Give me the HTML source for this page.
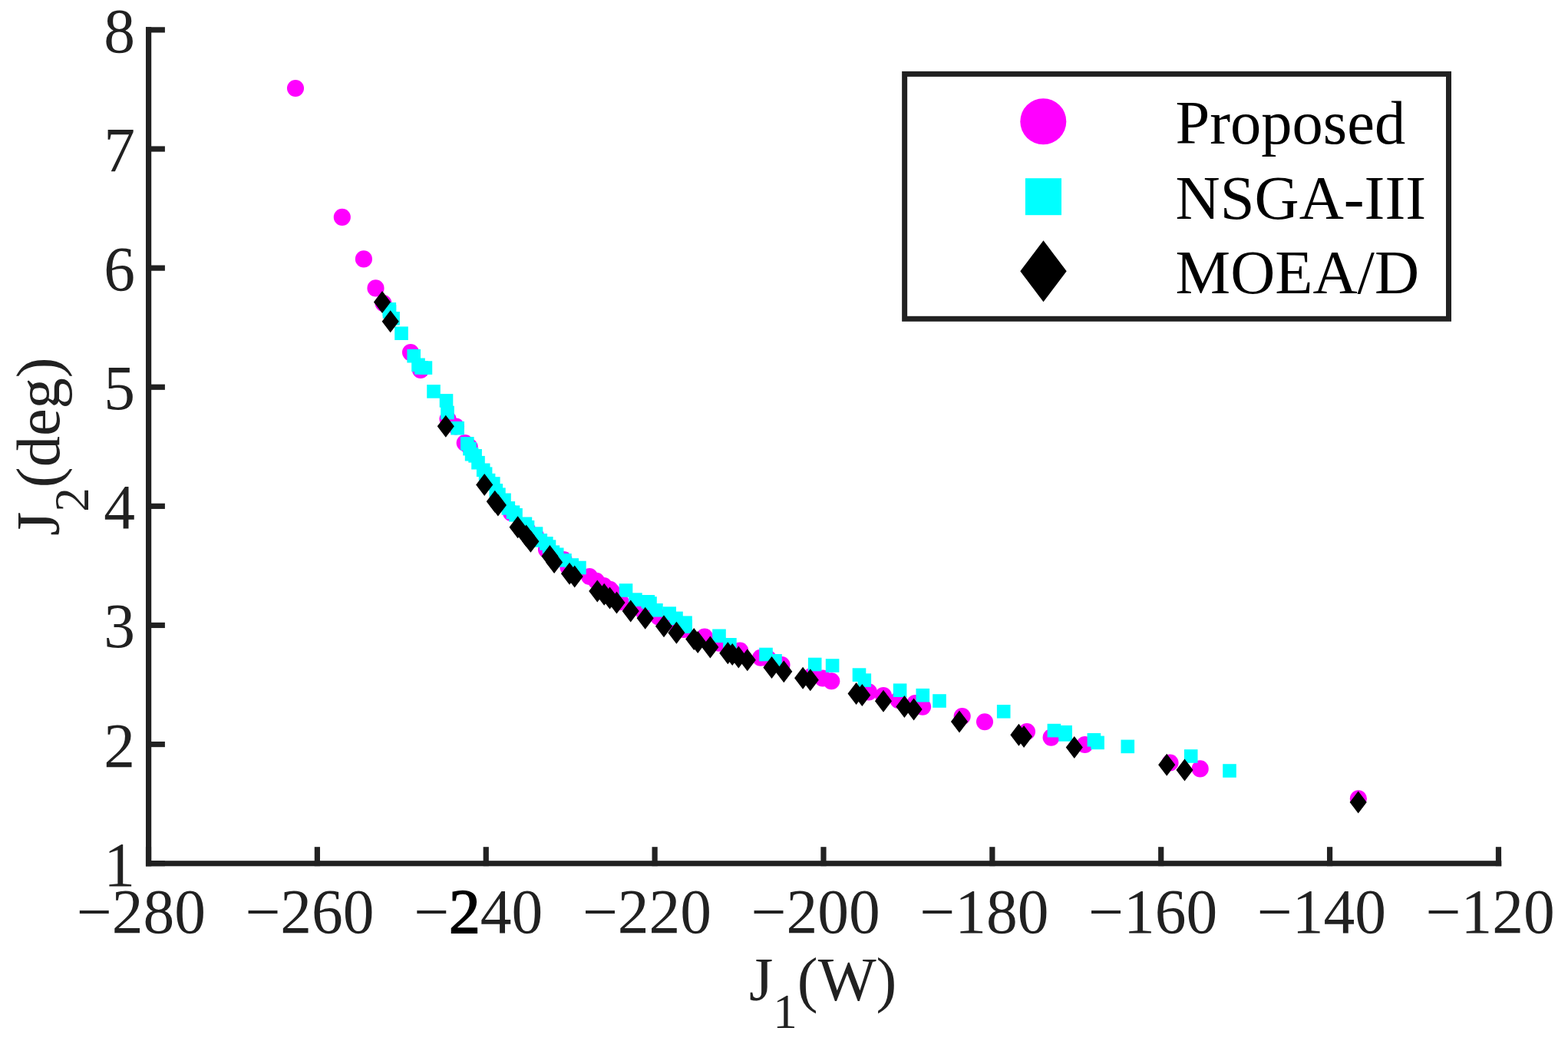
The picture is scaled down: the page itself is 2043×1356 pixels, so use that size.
<!DOCTYPE html><html><head><meta charset="utf-8"><style>html,body{margin:0;padding:0;background:#fff;}svg{display:block;}text{font-family:"Liberation Serif","Times New Roman",serif;}</style></head><body>
<svg width="2043" height="1356" viewBox="0 0 2043 1356">
<rect x="0" y="0" width="2043" height="1356" fill="#fff"/>
<g fill="#ff00ff">
<circle cx="385" cy="115" r="11.05"/>
<circle cx="445.8" cy="282.9" r="11.05"/>
<circle cx="473.9" cy="337.4" r="11.05"/>
<circle cx="489.5" cy="375.4" r="11.05"/>
<circle cx="499.5" cy="395" r="11.05"/>
<circle cx="535" cy="459.1" r="11.05"/>
<circle cx="548" cy="482" r="11.05"/>
<circle cx="583.5" cy="546" r="11.05"/>
<circle cx="594" cy="555.5" r="11.05"/>
<circle cx="605.7" cy="577" r="11.05"/>
<circle cx="611.6" cy="582" r="11.05"/>
<circle cx="666" cy="668" r="11.05"/>
<circle cx="687" cy="690" r="11.05"/>
<circle cx="698" cy="698" r="11.05"/>
<circle cx="712" cy="716" r="11.05"/>
<circle cx="734.5" cy="729" r="11.05"/>
<circle cx="740.5" cy="739" r="11.05"/>
<circle cx="768" cy="751" r="11.05"/>
<circle cx="777" cy="756.8" r="11.05"/>
<circle cx="786.7" cy="763" r="11.05"/>
<circle cx="794.7" cy="767.8" r="11.05"/>
<circle cx="798" cy="771.5" r="11.05"/>
<circle cx="808.5" cy="784" r="11.05"/>
<circle cx="838" cy="796" r="11.05"/>
<circle cx="858" cy="803.5" r="11.05"/>
<circle cx="878" cy="811" r="11.05"/>
<circle cx="891" cy="820" r="11.05"/>
<circle cx="918" cy="829.5" r="11.05"/>
<circle cx="937" cy="837.7" r="11.05"/>
<circle cx="964.2" cy="847.5" r="11.05"/>
<circle cx="991" cy="856.8" r="11.05"/>
<circle cx="1001" cy="858" r="11.05"/>
<circle cx="1018.5" cy="866" r="11.05"/>
<circle cx="1057" cy="881" r="11.05"/>
<circle cx="1072" cy="883.5" r="11.05"/>
<circle cx="1083.3" cy="887.3" r="11.05"/>
<circle cx="1131.9" cy="901.4" r="11.05"/>
<circle cx="1151" cy="906" r="11.05"/>
<circle cx="1170.5" cy="912" r="11.05"/>
<circle cx="1192.4" cy="916" r="11.05"/>
<circle cx="1202.1" cy="920.6" r="11.05"/>
<circle cx="1253.7" cy="933.1" r="11.05"/>
<circle cx="1283" cy="940.2" r="11.05"/>
<circle cx="1338" cy="953" r="11.05"/>
<circle cx="1369.6" cy="960.6" r="11.05"/>
<circle cx="1413.5" cy="970" r="11.05"/>
<circle cx="1524.5" cy="993.5" r="11.05"/>
<circle cx="1563.7" cy="1001.4" r="11.05"/>
<circle cx="1769.9" cy="1040.3" r="11.05"/>
</g>
<g fill="#00ffff">
<rect x="498.5" y="394" width="17.6" height="17.6"/>
<rect x="498.7" y="397.2" width="17.6" height="17.6"/>
<rect x="503.3" y="406" width="17.6" height="17.6"/>
<rect x="514.2" y="425.4" width="17.6" height="17.6"/>
<rect x="530.4" y="454.9" width="17.6" height="17.6"/>
<rect x="536.2" y="466.5" width="17.6" height="17.6"/>
<rect x="540.2" y="470.2" width="17.6" height="17.6"/>
<rect x="545.6" y="470.3" width="17.6" height="17.6"/>
<rect x="556.2" y="501.1" width="17.6" height="17.6"/>
<rect x="572.7" y="513.1" width="17.6" height="17.6"/>
<rect x="574.2" y="528.7" width="17.6" height="17.6"/>
<rect x="587.3" y="548.9" width="17.6" height="17.6"/>
<rect x="600" y="569.1" width="17.6" height="17.6"/>
<rect x="603.2" y="575.8" width="17.6" height="17.6"/>
<rect x="605.8" y="582.9" width="17.6" height="17.6"/>
<rect x="610.3" y="585" width="17.6" height="17.6"/>
<rect x="614.2" y="593.9" width="17.6" height="17.6"/>
<rect x="620.9" y="603.5" width="17.6" height="17.6"/>
<rect x="623.8" y="608.4" width="17.6" height="17.6"/>
<rect x="627.8" y="616.8" width="17.6" height="17.6"/>
<rect x="634" y="621.2" width="17.6" height="17.6"/>
<rect x="637.5" y="630.1" width="17.6" height="17.6"/>
<rect x="641.1" y="635.4" width="17.6" height="17.6"/>
<rect x="648.2" y="642.5" width="17.6" height="17.6"/>
<rect x="653.5" y="653.1" width="17.6" height="17.6"/>
<rect x="659.7" y="658.4" width="17.6" height="17.6"/>
<rect x="663.2" y="662" width="17.6" height="17.6"/>
<rect x="675.6" y="673.5" width="17.6" height="17.6"/>
<rect x="678.7" y="677.9" width="17.6" height="17.6"/>
<rect x="689.7" y="686.3" width="17.6" height="17.6"/>
<rect x="695.5" y="695.1" width="17.6" height="17.6"/>
<rect x="703" y="699.1" width="17.6" height="17.6"/>
<rect x="706.7" y="703.3" width="17.6" height="17.6"/>
<rect x="711.6" y="710.4" width="17.6" height="17.6"/>
<rect x="716.9" y="713.5" width="17.6" height="17.6"/>
<rect x="727.1" y="721" width="17.6" height="17.6"/>
<rect x="736.4" y="727.2" width="17.6" height="17.6"/>
<rect x="746.1" y="730.7" width="17.6" height="17.6"/>
<rect x="806.7" y="760.2" width="17.6" height="17.6"/>
<rect x="819.1" y="772.3" width="17.6" height="17.6"/>
<rect x="835.5" y="775" width="17.6" height="17.6"/>
<rect x="838.2" y="777.2" width="17.6" height="17.6"/>
<rect x="846.1" y="786" width="17.6" height="17.6"/>
<rect x="863.4" y="790.3" width="17.6" height="17.6"/>
<rect x="872.2" y="796.6" width="17.6" height="17.6"/>
<rect x="884.2" y="802.4" width="17.6" height="17.6"/>
<rect x="884.2" y="807.4" width="17.6" height="17.6"/>
<rect x="928.2" y="819.5" width="17.6" height="17.6"/>
<rect x="942.1" y="831" width="17.6" height="17.6"/>
<rect x="989.2" y="843.7" width="17.6" height="17.6"/>
<rect x="1001.2" y="852" width="17.6" height="17.6"/>
<rect x="1052.9" y="856.7" width="17.6" height="17.6"/>
<rect x="1075.8" y="858.2" width="17.6" height="17.6"/>
<rect x="1110.7" y="870.3" width="17.6" height="17.6"/>
<rect x="1117.5" y="877.3" width="17.6" height="17.6"/>
<rect x="1163.8" y="890.4" width="17.6" height="17.6"/>
<rect x="1193.5" y="896.9" width="17.6" height="17.6"/>
<rect x="1215.2" y="904.2" width="17.6" height="17.6"/>
<rect x="1298.9" y="918" width="17.6" height="17.6"/>
<rect x="1364.6" y="942.8" width="17.6" height="17.6"/>
<rect x="1379.3" y="944.9" width="17.6" height="17.6"/>
<rect x="1379.3" y="948.1" width="17.6" height="17.6"/>
<rect x="1416.6" y="955" width="17.6" height="17.6"/>
<rect x="1421.3" y="958.6" width="17.6" height="17.6"/>
<rect x="1460.5" y="963.6" width="17.6" height="17.6"/>
<rect x="1542.9" y="976.2" width="17.6" height="17.6"/>
<rect x="1593.2" y="995.2" width="17.6" height="17.6"/>
</g>
<g fill="#000">
<path d="M498 379L509.05 393.5L498 408L486.95 393.5Z"/>
<path d="M508.7 404.2L519.75 418.7L508.7 433.2L497.65 418.7Z"/>
<path d="M580.8 540.7L591.85 555.2L580.8 569.7L569.75 555.2Z"/>
<path d="M631.2 617L642.25 631.5L631.2 646L620.15 631.5Z"/>
<path d="M644.8 638.7L655.85 653.2L644.8 667.7L633.75 653.2Z"/>
<path d="M648.9 643.5L659.95 658L648.9 672.5L637.85 658Z"/>
<path d="M674.6 672.2L685.65 686.7L674.6 701.2L663.55 686.7Z"/>
<path d="M685.7 683.5L696.75 698L685.7 712.5L674.65 698Z"/>
<path d="M691.4 690.8L702.45 705.3L691.4 719.8L680.35 705.3Z"/>
<path d="M716.4 709.9L727.45 724.4L716.4 738.9L705.35 724.4Z"/>
<path d="M722.1 718L733.15 732.5L722.1 747L711.05 732.5Z"/>
<path d="M742 732.8L753.05 747.3L742 761.8L730.95 747.3Z"/>
<path d="M748.7 736.5L759.75 751L748.7 765.5L737.65 751Z"/>
<path d="M778.3 755.5L789.35 770L778.3 784.5L767.25 770Z"/>
<path d="M787.2 759.8L798.25 774.3L787.2 788.8L776.15 774.3Z"/>
<path d="M794.5 764.5L805.55 779L794.5 793.5L783.45 779Z"/>
<path d="M803.5 770.5L814.55 785L803.5 799.5L792.45 785Z"/>
<path d="M821.7 781.5L832.75 796L821.7 810.5L810.65 796Z"/>
<path d="M840.7 790.7L851.75 805.2L840.7 819.7L829.65 805.2Z"/>
<path d="M865 801.3L876.05 815.8L865 830.3L853.95 815.8Z"/>
<path d="M881.4 809.7L892.45 824.2L881.4 838.7L870.35 824.2Z"/>
<path d="M904.2 818L915.25 832.5L904.2 847L893.15 832.5Z"/>
<path d="M909.2 822.1L920.25 836.6L909.2 851.1L898.15 836.6Z"/>
<path d="M925.4 828.6L936.45 843.1L925.4 857.6L914.35 843.1Z"/>
<path d="M948.3 836.3L959.35 850.8L948.3 865.3L937.25 850.8Z"/>
<path d="M954.2 838L965.25 852.5L954.2 867L943.15 852.5Z"/>
<path d="M962.3 841.5L973.35 856L962.3 870.5L951.25 856Z"/>
<path d="M973.8 845.2L984.85 859.7L973.8 874.2L962.75 859.7Z"/>
<path d="M1005.5 855.1L1016.55 869.6L1005.5 884.1L994.45 869.6Z"/>
<path d="M1021.3 860.3L1032.35 874.8L1021.3 889.3L1010.25 874.8Z"/>
<path d="M1046.1 868.8L1057.15 883.3L1046.1 897.8L1035.05 883.3Z"/>
<path d="M1055.8 871.2L1066.85 885.7L1055.8 900.2L1044.75 885.7Z"/>
<path d="M1115.6 888.9L1126.65 903.4L1115.6 917.9L1104.55 903.4Z"/>
<path d="M1123.3 891.1L1134.35 905.6L1123.3 920.1L1112.25 905.6Z"/>
<path d="M1151 898.8L1162.05 913.3L1151 927.8L1139.95 913.3Z"/>
<path d="M1178.4 905.9L1189.45 920.4L1178.4 934.9L1167.35 920.4Z"/>
<path d="M1190.6 909.6L1201.65 924.1L1190.6 938.6L1179.55 924.1Z"/>
<path d="M1250 925.5L1261.05 940L1250 954.5L1238.95 940Z"/>
<path d="M1327.4 942.7L1338.45 957.2L1327.4 971.7L1316.35 957.2Z"/>
<path d="M1334.1 945.1L1345.15 959.6L1334.1 974.1L1323.05 959.6Z"/>
<path d="M1399.8 958.9L1410.85 973.4L1399.8 987.9L1388.75 973.4Z"/>
<path d="M1520.2 981.8L1531.25 996.3L1520.2 1010.8L1509.15 996.3Z"/>
<path d="M1543.5 988.5L1554.55 1003L1543.5 1017.5L1532.45 1003Z"/>
<path d="M1769.7 1030.5L1780.75 1045L1769.7 1059.5L1758.65 1045Z"/>
</g>
<g fill="#212121">
<rect x="190" y="35.2" width="7.2" height="1093"/>
<rect x="190" y="1121.2" width="1766.3" height="7.1"/>
<rect x="190" y="1121.07" width="24.9" height="7.2"/>
<rect x="190" y="965.96" width="24.9" height="7.2"/>
<rect x="190" y="810.85" width="24.9" height="7.2"/>
<rect x="190" y="655.74" width="24.9" height="7.2"/>
<rect x="190" y="500.63" width="24.9" height="7.2"/>
<rect x="190" y="345.52" width="24.9" height="7.2"/>
<rect x="190" y="190.41" width="24.9" height="7.2"/>
<rect x="190" y="35.3" width="24.9" height="7.2"/>
<rect x="189.9" y="1103.2" width="7.2" height="25"/>
<rect x="409.77" y="1103.2" width="7.2" height="25"/>
<rect x="629.64" y="1103.2" width="7.2" height="25"/>
<rect x="849.51" y="1103.2" width="7.2" height="25"/>
<rect x="1069.38" y="1103.2" width="7.2" height="25"/>
<rect x="1289.25" y="1103.2" width="7.2" height="25"/>
<rect x="1509.12" y="1103.2" width="7.2" height="25"/>
<rect x="1728.99" y="1103.2" width="7.2" height="25"/>
<rect x="1948.86" y="1103.2" width="7.2" height="25"/>
</g>
<g fill="#212121" font-size="81.5">
<text x="183.8" y="1214.9" text-anchor="middle">−280</text>
<text x="403.53" y="1214.9" text-anchor="middle">−260</text>
<text x="623.26" y="1214.9" text-anchor="middle">−<tspan fill="#000" stroke="#000" stroke-width="1.7">2</tspan>40</text>
<text x="842.99" y="1214.9" text-anchor="middle">−220</text>
<text x="1062.72" y="1214.9" text-anchor="middle">−200</text>
<text x="1282.45" y="1214.9" text-anchor="middle">−180</text>
<text x="1502.18" y="1214.9" text-anchor="middle">−160</text>
<text x="1721.91" y="1214.9" text-anchor="middle">−140</text>
<text x="1941.64" y="1214.9" text-anchor="middle">−120</text>
<text x="176" y="1153.67" text-anchor="end">1</text>
<text x="176" y="998.56" text-anchor="end">2</text>
<text x="176" y="843.45" text-anchor="end">3</text>
<text x="176" y="688.34" text-anchor="end">4</text>
<text x="176" y="533.23" text-anchor="end">5</text>
<text x="176" y="378.12" text-anchor="end">6</text>
<text x="176" y="223.01" text-anchor="end">7</text>
<text x="176" y="67.9" text-anchor="end">8</text>
</g>
<g fill="#212121" font-size="80.5">
<text x="976" y="1302.7">J<tspan font-size="63" dy="36">1</tspan><tspan dy="-36">(W)</tspan></text>
<text transform="translate(76.5,698) rotate(-90)" x="0" y="0">J<tspan font-size="63" dy="38">2</tspan><tspan dy="-38">(deg)</tspan></text>
</g>
<rect x="1178.65" y="96.4" width="708.85" height="318.9" fill="#fff" stroke="#212121" stroke-width="7"/>
<circle cx="1359.3" cy="158.2" r="30" fill="#ff00ff"/>
<rect x="1335.9" y="232.2" width="47.1" height="48" fill="#00ffff"/>
<path d="M1359.5 313.3L1389.7 353.3L1359.5 393.3L1329.3 353.3Z" fill="#000"/>
<g fill="#000" font-size="80.5">
<text x="1531.5" y="186.8">Proposed</text>
<text x="1531.6" y="284.6">NSGA-III</text>
<text x="1531.6" y="381.7">MOEA/D</text>
</g>
</svg></body></html>
